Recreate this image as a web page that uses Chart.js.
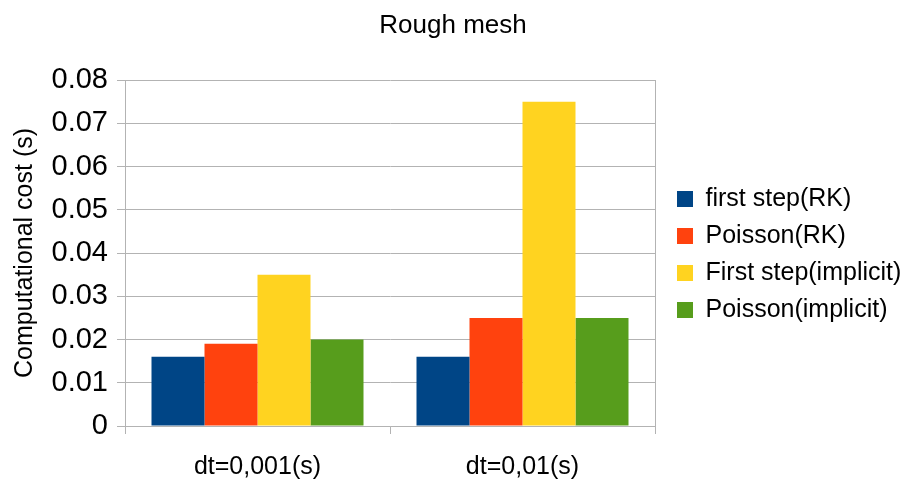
<!DOCTYPE html>
<html lang="en">
<head>
    <meta charset="UTF-8">
    <title>Rough mesh</title>
    <script src="https://cdn.jsdelivr.net/npm/chart.js"></script>
    <style>
        html, body { margin: 0; padding: 0; background: #fff; }
        #wrap { width: 906px; height: 480px; }
    </style>
</head>
<body>
    <div id="wrap"><canvas id="barChart"></canvas></div>

    <script>
        // chart data
        const categories = ['dt=0,001(s)', 'dt=0,01(s)'];
        const seriesNames = ['first step(RK)', 'Poisson(RK)', 'First step(implicit)', 'Poisson(implicit)'];
        const firstStepRK = [0.016, 0.016];
        const poissonRK = [0.019, 0.025];
        const firstStepImplicit = [0.035, 0.075];
        const poissonImplicit = [0.020, 0.025];
        const seriesColors = ['#004586', '#ff420e', '#ffd320', '#579d1c'];

        const font = 'Liberation Sans, Arial, sans-serif';
        const gridColor = '#b3b3b3';

        const values = [firstStepRK, poissonRK, firstStepImplicit, poissonImplicit];
        const datasets = values.map((v, i) => ({
            label: seriesNames[i],
            data: v,
            backgroundColor: seriesColors[i],
            borderWidth: 0,
            categoryPercentage: 0.8,
            barPercentage: 1.0
        }));

        const ctx = document.getElementById('barChart').getContext('2d');
        new Chart(ctx, {
            type: 'bar',
            data: { labels: categories, datasets: datasets },
            options: {
                responsive: true,
                maintainAspectRatio: false,
                animation: false,
                layout: { padding: 0 },
                plugins: {
                    title: {
                        display: true,
                        text: 'Rough mesh',
                        color: '#000',
                        font: { family: font, size: 26, weight: 'normal' },
                        padding: { top: 10, bottom: 38.8 }
                    },
                    legend: {
                        position: 'right',
                        align: 'center',
                        maxWidth: 241,
                        // empty title only nudges the items down a bit
                        title: { display: true, text: '', font: { size: 10 }, padding: { top: 17, bottom: 0 } },
                        labels: {
                            color: '#000',
                            font: { family: font, size: 25 },
                            boxWidth: 16,
                            boxHeight: 16,
                            padding: 12
                        }
                    },
                    tooltip: { enabled: false }
                },
                scales: {
                    x: {
                        afterFit: (scale) => { scale.height = 54; },
                        grid: {
                            offset: true,
                            drawOnChartArea: false,
                            drawTicks: true,
                            tickLength: 8,
                            color: gridColor
                        },
                        border: { color: gridColor },
                        ticks: {
                            color: '#000',
                            font: { family: font, size: 25 },
                            padding: 18
                        }
                    },
                    y: {
                        min: 0,
                        max: 0.08,
                        afterFit: (scale) => { scale.width = 125; },
                        ticks: {
                            stepSize: 0.01,
                            color: '#000',
                            font: { family: font, size: 29 },
                            padding: 9,
                            callback: (v) => v === 0 ? '0' : v.toFixed(2)
                        },
                        grid: { color: gridColor, tickLength: 8 },
                        border: { color: gridColor },
                        title: {
                            display: true,
                            text: 'Computational cost (s)',
                            color: '#000',
                            font: { family: font, size: 25 },
                            padding: { top: 10, bottom: 0 }
                        }
                    },
                    y2: {
                        position: 'right',
                        min: 0,
                        max: 0.08,
                        afterFit: (scale) => { scale.width = 10; },
                        ticks: { display: false },
                        grid: { display: false },
                        border: { display: true, color: gridColor }
                    }
                }
            }
        });
    </script>
</body>
</html>
